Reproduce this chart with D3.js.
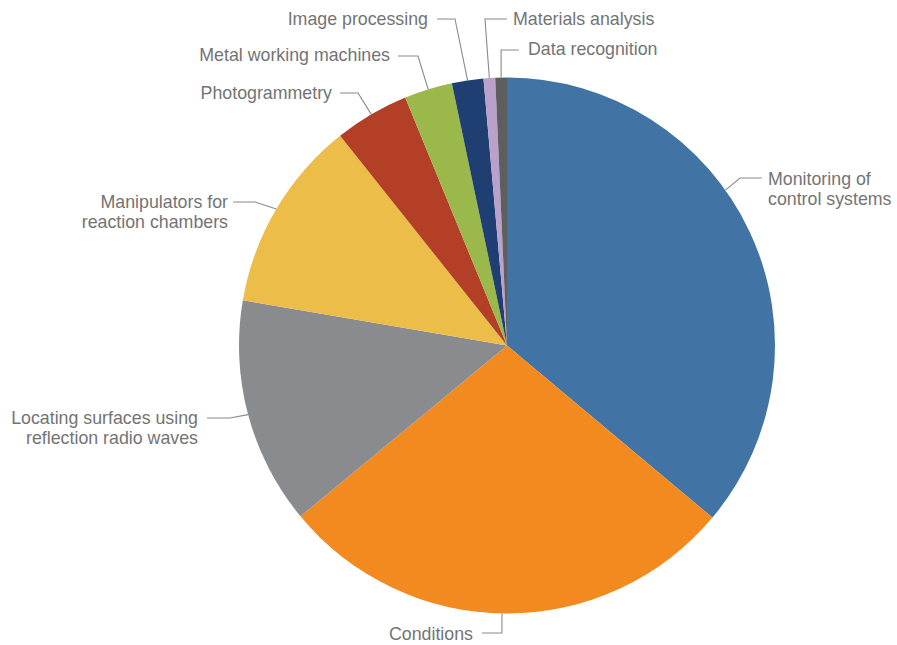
<!DOCTYPE html>
<html>
<head>
<meta charset="utf-8">
<script src="https://cdn.jsdelivr.net/npm/d3@7"></script>
<style>
  html, body { margin: 0; padding: 0; background: #fff; }
  svg { display: block; }
  text { font-family: "Liberation Sans", Arial, sans-serif; fill: #747474; }
</style>
</head>
<body>
<svg id="chart" width="897" height="645"></svg>
<script>
// ---- data ----
const categories = [
  "Monitoring of control systems",
  "Conditions",
  "Locating surfaces using reflection radio waves",
  "Manipulators for reaction chambers",
  "Photogrammetry",
  "Metal working machines",
  "Image processing",
  "Materials analysis",
  "Data recognition"
];
const values = [36.1, 27.9, 13.7, 11.6, 4.5, 2.9, 1.9, 0.7, 0.7];
const colors = ["#4174a4", "#f28a1f", "#8a8b8f", "#ecbd48", "#b33f27",
                "#9bb84a", "#1f3f73", "#b9a1cc", "#5e5e5e"];
const labelLines = [
  ["Monitoring of", "control systems"],
  ["Conditions"],
  ["Locating surfaces using", "reflection radio waves"],
  ["Manipulators for", "reaction chambers"],
  ["Photogrammetry"],
  ["Metal working machines"],
  ["Image processing"],
  ["Materials analysis"],
  ["Data recognition"]
];

// ---- layout (label placement) ----
const labelLayout = [
  {tx: 768, ty: 179, anchor: "start", lx1: 762, lx2: 740, ly: 178, frac: 0.42},
  {tx: 473, ty: 634, anchor: "end",   lx1: 482, lx2: null, ly: 633, frac: 0.509},
  {tx: 198, ty: 418, anchor: "end",   lx1: 207, lx2: 230, ly: 418, frac: 0.5},
  {tx: 228, ty: 202, anchor: "end",   lx1: 233, lx2: 255, ly: 202, frac: 0.5},
  {tx: 332, ty: 93,  anchor: "end",   lx1: 340, lx2: 358, ly: 93,  frac: 0.5},
  {tx: 390, ty: 55,  anchor: "end",   lx1: 398, lx2: 418, ly: 56,  frac: 0.5},
  {tx: 428, ty: 19,  anchor: "end",   lx1: 437, lx2: 455, ly: 19,  frac: 0.5},
  {tx: 513, ty: 19,  anchor: "start", lx1: 507, lx2: 485, ly: 19,  frac: 0.5},
  {tx: 528, ty: 49,  anchor: "start", lx1: 519, lx2: null, ly: 50, frac: 0.5}
];

const cx = 507, cy = 345.5, radius = 268;
const fontSize = 17.8, lineHeight = 20;

const svg = d3.select("#chart");
const g = svg.append("g").attr("transform", `translate(${cx},${cy})`);

const pie = d3.pie().sort(null).value(d => d)
  .startAngle(0).endAngle(2 * Math.PI);
const arcs = pie(values);
const arc = d3.arc().innerRadius(0).outerRadius(radius);

g.selectAll("path.slice")
  .data(arcs)
  .join("path")
  .attr("class", "slice")
  .attr("d", arc)
  .attr("fill", (d, i) => colors[i]);

arcs.forEach((a, i) => {
  const L = labelLayout[i];
  const ang = a.startAngle + (a.endAngle - a.startAngle) * L.frac;
  const p = d3.pointRadial(ang, radius);
  const px = cx + p[0], py = cy + p[1];
  const x2 = L.lx2 === null ? px : L.lx2;
  const pts = [[L.lx1, L.ly], [x2, L.ly], [px, py]];
  svg.append("path")
    .attr("d", d3.line()(pts))
    .attr("fill", "none")
    .attr("stroke", "#8a8a8a")
    .attr("stroke-width", 1.1);

  const t = svg.append("text")
    .attr("x", L.tx)
    .attr("y", L.ty)
    .attr("text-anchor", L.anchor)
    .style("font-size", fontSize + "px");
  labelLines[i].forEach((line, j) => {
    t.append("tspan")
      .attr("x", L.tx)
      .attr("y", L.ty + j * lineHeight)
      .attr("dy", "0.35em")
      .text(line);
  });
});
</script>
</body>
</html>
